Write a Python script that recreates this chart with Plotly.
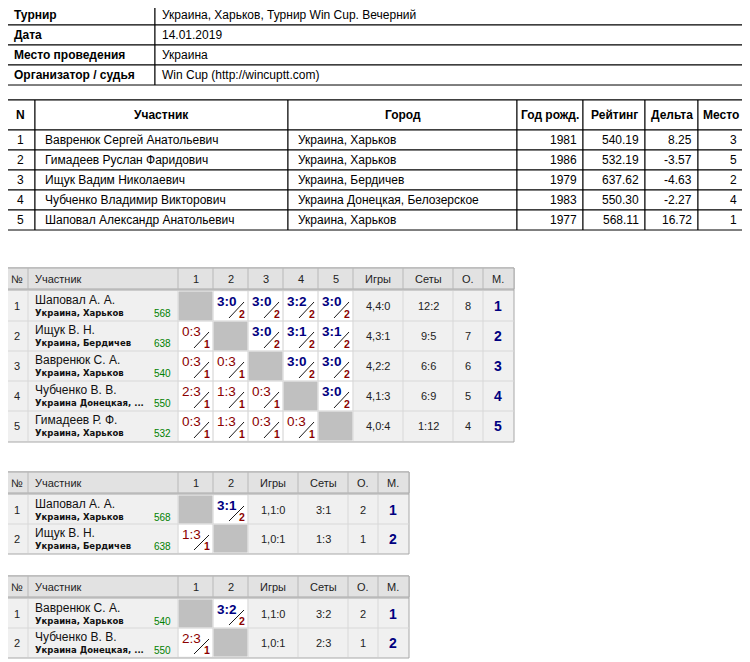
import plotly.graph_objects as go

# ---------- DATA ----------
info_labels = ["Турнир", "Дата", "Место проведения", "Организатор / судья"]
info_values = ["Украина, Харьков, Турнир Win Cup. Вечерний", "14.01.2019", "Украина", "Win Cup (http://wincuptt.com)"]

part_headers = ["N", "Участник", "Город", "Год рожд.", "Рейтинг", "Дельта", "Место"]
part_names = ["Вавренюк Сергей Анатольевич", "Гимадеев Руслан Фаридович", "Ищук Вадим Николаевич",
              "Чубченко Владимир Викторович", "Шаповал Александр Анатольевич"]
part_cities = ["Украина, Харьков", "Украина, Харьков", "Украина, Бердичев",
               "Украина Донецкая, Белозерское", "Украина, Харьков"]
part_years = ["1981", "1986", "1979", "1983", "1977"]
part_ratings = ["540.19", "532.19", "637.62", "550.30", "568.11"]
part_deltas = ["8.25", "-3.57", "-4.63", "-2.27", "16.72"]
part_places = ["3", "5", "2", "4", "1"]

g_names = ["Шаповал А. А.", "Ищук В. Н.", "Вавренюк С. А.", "Чубченко В. В.", "Гимадеев Р. Ф."]
g_cities = ["Украина, Харьков", "Украина, Бердичев", "Украина, Харьков", "Украина Донецкая, ...", "Украина, Харьков"]
g_ratings = ["568", "638", "540", "550", "532"]
g_scores = [[None, "3:0", "3:0", "3:2", "3:0"],
            ["0:3", None, "3:0", "3:1", "3:1"],
            ["0:3", "0:3", None, "3:0", "3:0"],
            ["2:3", "1:3", "0:3", None, "3:0"],
            ["0:3", "1:3", "0:3", "0:3", None]]
g_games = ["4,4:0", "4,3:1", "4,2:2", "4,1:3", "4,0:4"]
g_sets = ["12:2", "9:5", "6:6", "6:9", "1:12"]
g_points = ["8", "7", "6", "5", "4"]
g_places = ["1", "2", "3", "4", "5"]

f12_names = ["Шаповал А. А.", "Ищук В. Н."]
f12_cities = ["Украина, Харьков", "Украина, Бердичев"]
f12_ratings = ["568", "638"]
f12_scores = [[None, "3:1"], ["1:3", None]]
f12_games = ["1,1:0", "1,0:1"]
f12_sets = ["3:1", "1:3"]
f12_points = ["2", "1"]
f12_places = ["1", "2"]

f34_names = ["Вавренюк С. А.", "Чубченко В. В."]
f34_cities = ["Украина, Харьков", "Украина Донецкая, ..."]
f34_ratings = ["540", "550"]
f34_scores = [[None, "3:2"], ["2:3", None]]
f34_games = ["1,1:0", "1,0:1"]
f34_sets = ["3:2", "2:3"]
f34_points = ["2", "1"]
f34_places = ["1", "2"]

# ---------- DRAWING ----------
W, H = 750, 662
OFF = 8  # page body margin
shapes, anns = [], []
FONT = "Arial, Liberation Sans, sans-serif"

def rect(x0, y0, x1, y1, fill="white", line="#000", lw=1):
    shapes.append(dict(type="rect", x0=x0, y0=y0, x1=x1, y1=y1, fillcolor=fill,
                       line=dict(color=line, width=lw), layer="below"))

def line(x0, y0, x1, y1, color="#000", lw=1):
    shapes.append(dict(type="line", x0=x0, y0=y0, x1=x1, y1=y1, line=dict(color=color, width=lw)))

def text(x, y, s, size=12, color="#000", bold=False, anchor="left", family=FONT):
    anns.append(dict(x=x, y=y, text=f"<b>{s}</b>" if bold else s, showarrow=False,
                     xanchor=anchor, yanchor="middle", font=dict(size=size, color=color, family=family)))

# info table
for i, (lab, val) in enumerate(zip(info_labels, info_values)):
    y0 = 5 + i * 20
    rect(5, y0, 155, y0 + 20)
    rect(155, y0, 743, y0 + 20)
    text(12, y0 + 10, lab, bold=True)
    text(160, y0 + 10, val)

# participants table
pcols = [5, 35, 288, 517, 583, 645, 698, 743]
aligns = ["center", "left", "left", "right", "right", "right", "right"]
rect(5, 100, 743, 130)
for j, h in enumerate(part_headers):
    rect(pcols[j], 100, pcols[j + 1], 130)
    text((pcols[j] + pcols[j + 1]) / 2, 115, h, bold=True, anchor="center")
rows = list(zip([str(i + 1) for i in range(5)], part_names, part_cities, part_years,
                part_ratings, part_deltas, part_places))
for i, r in enumerate(rows):
    y0 = 130 + i * 20
    for j, v in enumerate(r):
        rect(pcols[j], y0, pcols[j + 1], y0 + 20)
        if aligns[j] == "center":
            text((pcols[j] + pcols[j + 1]) / 2, y0 + 10, v, anchor="center")
        elif aligns[j] == "left":
            text(pcols[j] + 8, y0 + 10, v)
        else:
            text(pcols[j + 1] - 4, y0 + 10, v, anchor="right")

WIN, LOSS, DARK = "#000080", "#8b0000", "#8b0000"

def group(title, ty, hy, row_h, names, cities, ratings, scores, games, sets, points, places):
    n = len(names)
    cols = [5, 28, 178] + [178 + 35 * (k + 1) for k in range(n)]
    cols += [cols[-1] + 50, cols[-1] + 100, cols[-1] + 130, cols[-1] + 160]
    heads = ["№", "Участник"] + [str(k + 1) for k in range(n)] + ["Игры", "Сеты", "О.", "М."]
    text(5, ty, title, bold=True)
    right = cols[-1]
    top_rows = hy + 23
    bottom = top_rows + row_h * n
    rect(4, hy, right + 1, bottom + 1, fill="#f0f0f0", line="#a8a8a8")
    rect(4, hy, right + 1, hy + 21, fill="#e2e2e2", line="#a8a8a8")
    line(4, hy + 22, right + 1, hy + 22, "#a8a8a8", 1)
    for j, h in enumerate(heads):
        if j > 0:
            line(cols[j], hy, cols[j], hy + 21, "#b8b8b8")
        if j == 1:
            text(cols[j] + 5, hy + 11, h, size=11, color="#222")
        else:
            text((cols[j] + cols[j + 1]) / 2, hy + 11, h, size=11, color="#222", anchor="center")
    for i in range(n):
        y0 = top_rows + i * row_h
        y1 = y0 + row_h
        if i > 0:
            line(4, y0, right + 1, y0, "#d8d8d8")
        for j in range(1, len(cols) - 1):
            line(cols[j], y0, cols[j], y1, "#d8d8d8")
        text((cols[0] + cols[1]) / 2, y0 + row_h / 2, str(i + 1), size=11, color="#222", anchor="center")
        text(33, y0 + 9, names[i], size=12, color="#111")
        text(33, y0 + 22, cities[i], size=8.5, color="#111", bold=True, family="DejaVu Sans, sans-serif")
        text(173, y0 + 22, ratings[i], size=10, color="#008000", anchor="right")
        for k in range(n):
            cx0, cx1 = cols[2 + k] + 1, cols[3 + k] - 1
            if scores[i][k] is None:
                rect(cx0, y0 + 1, cx1, y1 - 1, fill="#c0c0c0", line="#c0c0c0")
                continue
            rect(cx0, y0 + 1, cx1, y1 - 1, fill="white", line="white")
            s = scores[i][k]
            win = int(s.split(":")[0]) > int(s.split(":")[1])
            text(cx0 + 1, y0 + 10, s, size=13.5, color=WIN if win else LOSS, bold=win)
            line(cx0 + 15, y1 - 3, cx0 + 30, y0 + 11, "#000", 0.9)
            text(cx0 + 28, y1 - 7, "2" if win else "1", size=10.5, color=DARK, bold=True, anchor="center")
        vals = [games[i], sets[i], points[i]]
        for m, v in enumerate(vals):
            c = 2 + n + m
            text((cols[c] + cols[c + 1]) / 2, y0 + row_h / 2, v, size=11, color="#222", anchor="center")
        c = 2 + n + 3
        text((cols[c] + cols[c + 1]) / 2, y0 + row_h / 2, places[i], size=14, color=WIN, bold=True, anchor="center")

group("Группа-1", 259, 268, 30, g_names, g_cities, g_ratings, g_scores, g_games, g_sets, g_points, g_places)
group("Игра за 1-2 место", 463, 472, 29, f12_names, f12_cities, f12_ratings, f12_scores, f12_games, f12_sets, f12_points, f12_places)
group("Игра за 3-4 место", 566, 576, 29, f34_names, f34_cities, f34_ratings, f34_scores, f34_games, f34_sets, f34_points, f34_places)

fig = go.Figure()
fig.update_layout(width=W, height=H, margin=dict(l=0, r=0, t=0, b=0),
                  plot_bgcolor="white", paper_bgcolor="white", shapes=shapes, annotations=anns,
                  xaxis=dict(range=[OFF, W + OFF], visible=False, fixedrange=True),
                  yaxis=dict(range=[H + OFF, OFF], visible=False, fixedrange=True),
                  showlegend=False)
fig.write_html("out.html", config={"displayModeBar": False})
